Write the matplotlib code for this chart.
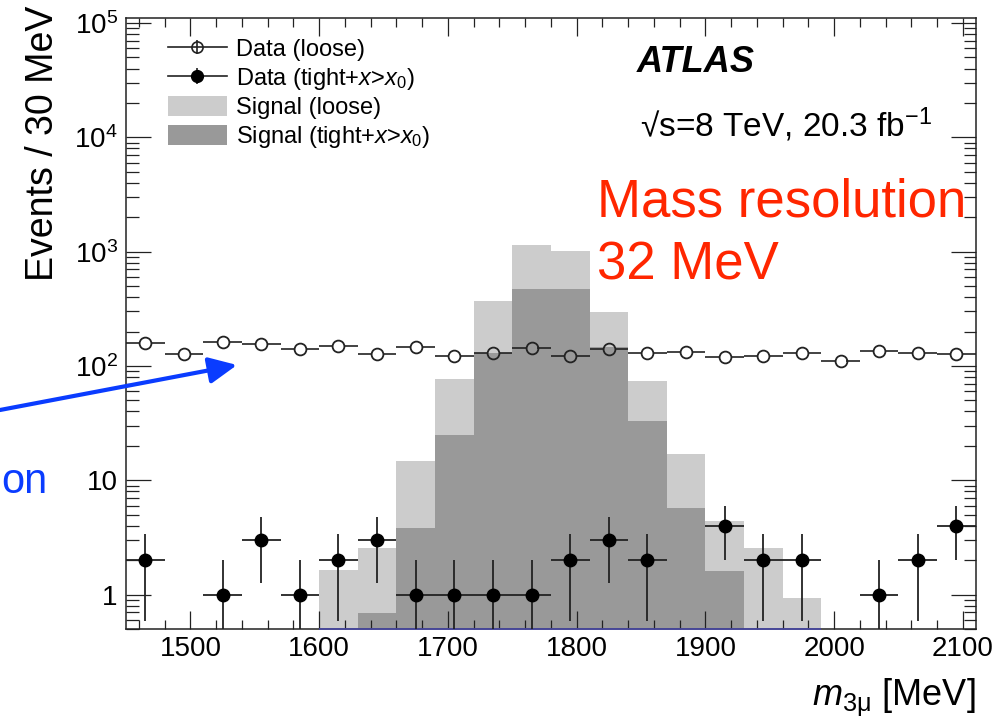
import numpy as np
import matplotlib
matplotlib.use('Agg')
import matplotlib.pyplot as plt
from matplotlib.ticker import MultipleLocator, LogLocator, FuncFormatter, NullFormatter
from matplotlib.lines import Line2D
from matplotlib.patches import Patch, FancyArrowPatch

plt.rcParams['font.family'] = ['Liberation Sans', 'DejaVu Sans']
plt.rcParams['mathtext.fontset'] = 'custom'
plt.rcParams['mathtext.rm'] = 'Liberation Sans'
plt.rcParams['mathtext.it'] = 'Liberation Sans:italic'
plt.rcParams['mathtext.bf'] = 'Liberation Sans:bold'

# m(3mu) bin centres, 30 MeV bins
mass = np.array([1465, 1495, 1525, 1555, 1585, 1615, 1645, 1675, 1705, 1735, 1765,
                 1795, 1825, 1855, 1885, 1915, 1945, 1975, 2005, 2035, 2065, 2095])
half_bin = 15

# data, loose selection (events per bin)
loose = np.array([158, 127, 162, 156, 140, 151, 127, 148, 123, 129, 143,
                  123, 140, 131, 132, 121, 123, 129, 111, 136, 129, 128])

# data, tight + x>x0 selection (only non-empty bins)
tight_x = np.array([1465, 1525, 1555, 1585, 1615, 1645, 1675, 1705, 1735, 1765,
                    1795, 1825, 1855, 1915, 1945, 1975, 2035, 2065, 2095])
tight_n = np.array([2, 1, 3, 1, 2, 3, 1, 1, 1, 1, 2, 3, 2, 4, 2, 2, 1, 2, 4], dtype=float)

# signal shapes
sig_loose_edges = [1600, 1630, 1660, 1690, 1720, 1750, 1780, 1810, 1840, 1870, 1900, 1930, 1960, 1990]
sig_loose = [1.64, 2.55, 14.8, 77, 371, 1150, 1020, 299, 74, 16.9, 4.4, 2.58, 0.94]
sig_tight_edges = [1630, 1660, 1690, 1720, 1750, 1780, 1810, 1840, 1870, 1900, 1930]
sig_tight = [0.69, 3.86, 24.9, 131, 470, 470, 147, 33, 5.7, 1.62]

xmin, xmax = 1450, 2110
ymin, ymax = 0.5, 1.1e5
ink = '#222222'
blue = '#0a3cff'

fig = plt.figure(figsize=(9.98, 7.19), dpi=100)
ax = fig.add_axes([0.1263, 0.1252, 0.8514, 0.8493])
ax.set_yscale('log')
ax.set_xlim(xmin, xmax)
ax.set_ylim(ymin, ymax)

# signal histograms
ax.stairs(sig_loose, sig_loose_edges, baseline=1e-3, fill=True, color='#cccccc', lw=0, zorder=1)
ax.stairs(sig_tight, sig_tight_edges, baseline=1e-3, fill=True, color='#999999', lw=0, zorder=1.1)
ax.hlines(ymin, sig_loose_edges[0], sig_loose_edges[-1], color='#4a4aa8', lw=1.2, zorder=3, clip_on=False)

# loose data: open markers, bin-width bars stop at the marker edge
ms_open = 8.5
ax_w_px = ax.get_position().width * fig.get_figwidth() * fig.dpi
gap = ms_open / 2 * fig.dpi / 72 / ax_w_px * (xmax - xmin)
ax.hlines(loose, mass - half_bin, mass - gap, color=ink, lw=1.2, zorder=4)
ax.hlines(loose, mass + gap, mass + half_bin, color=ink, lw=1.2, zorder=4)
ax.plot(mass, loose, 'o', mfc='none', mec=ink, mew=1.3, ms=ms_open, zorder=4)

# tight data with sqrt(N) errors
err = np.sqrt(tight_n)
err_lo = np.minimum(err, tight_n - 1e-2)
ax.errorbar(tight_x, tight_n, xerr=half_bin, yerr=[err_lo, err], fmt='o', color='k',
            ecolor=ink, ms=9, elinewidth=1.3, capsize=0, zorder=5)

# axes styling
ax.xaxis.set_major_locator(MultipleLocator(100))
ax.xaxis.set_minor_locator(MultipleLocator(20))
ax.yaxis.set_major_locator(LogLocator(base=10, numticks=12))
ax.yaxis.set_minor_locator(LogLocator(base=10, subs=np.arange(2, 10), numticks=12))
ax.yaxis.set_minor_formatter(NullFormatter())


def pow_label(v, pos):
    e = int(round(np.log10(v)))
    if e == 0:
        return '1'
    if e == 1:
        return '10'
    return r'$10^{%d}$' % e


ax.yaxis.set_major_formatter(FuncFormatter(pow_label))
ax.tick_params(which='both', direction='in', top=True, right=True, color=ink,
               labelcolor='k', labelsize=20, width=0.9)
ax.tick_params(axis='x', which='major', length=13, pad=5)
ax.tick_params(axis='x', which='minor', length=6.5)
ax.tick_params(axis='y', which='major', length=18, pad=6)
ax.tick_params(axis='y', which='minor', length=9)
for s in ax.spines.values():
    s.set_linewidth(1.1)
    s.set_color(ink)

ax.set_xlabel(r'$m_{\mathrm{3μ}}$ [MeV]', fontsize=26, loc='right')
ax.xaxis.set_label_coords(1.0, -0.078)
ax.set_ylabel('Events / 30 MeV', fontsize=27, loc='top')
ax.yaxis.set_label_coords(-0.0765, 1.021)

# legend
handles = [
    (Line2D([], [], color=ink, lw=1.2, marker='|', ms=10, mew=1.2),
     Line2D([], [], ls='none', marker='o', mfc='none', mec=ink, ms=8, mew=1.2)),
    (Line2D([], [], color=ink, lw=1.2, marker='|', ms=12, mew=1.2),
     Line2D([], [], ls='none', marker='o', mfc='k', mec='k', ms=8.5)),
    Patch(facecolor='#cccccc', edgecolor='none'),
    Patch(facecolor='#999999', edgecolor='none'),
]
labels = ['Data (loose)', r'Data (tight+$x$>$x_0$)', 'Signal (loose)', r'Signal (tight+$x$>$x_0$)']
ax.legend(handles, labels, loc='upper left', bbox_to_anchor=(0.049, 0.968), frameon=False,
          fontsize=17, handlelength=2.5, handleheight=0.9, handletextpad=0.4,
          labelspacing=0.2, borderpad=0, borderaxespad=0)

ax.text(0.601, 0.9116, 'ATLAS', transform=ax.transAxes, fontsize=26,
        fontweight='bold', fontstyle='italic')
ax.text(0.605, 0.8057, '√s=8 TeV, 20.3 fb$^{-1}$', transform=ax.transAxes, fontsize=24)

# annotations on top of the figure
fig.text(597 / 998, 0.6986, 'Mass resolution', color='#ff2600', fontsize=38)
fig.text(597 / 998, 0.6106, '32 MeV', color='#ff2600', fontsize=38)
fig.text(1 / 998, 0.3143, 'on', ha='left', color=blue, fontsize=30,
         family=['Liberation Sans Narrow', 'Liberation Sans'])
arrow = FancyArrowPatch((0.0, 1 - 410 / 719), (237 / 998, 1 - 365 / 719),
                        transform=fig.transFigure, arrowstyle='-|>,head_length=1.7,head_width=0.8',
                        mutation_scale=10, color=blue, lw=3, shrinkA=0, shrinkB=0, zorder=10)
fig.add_artist(arrow)

fig.savefig('out.png', dpi=100)
